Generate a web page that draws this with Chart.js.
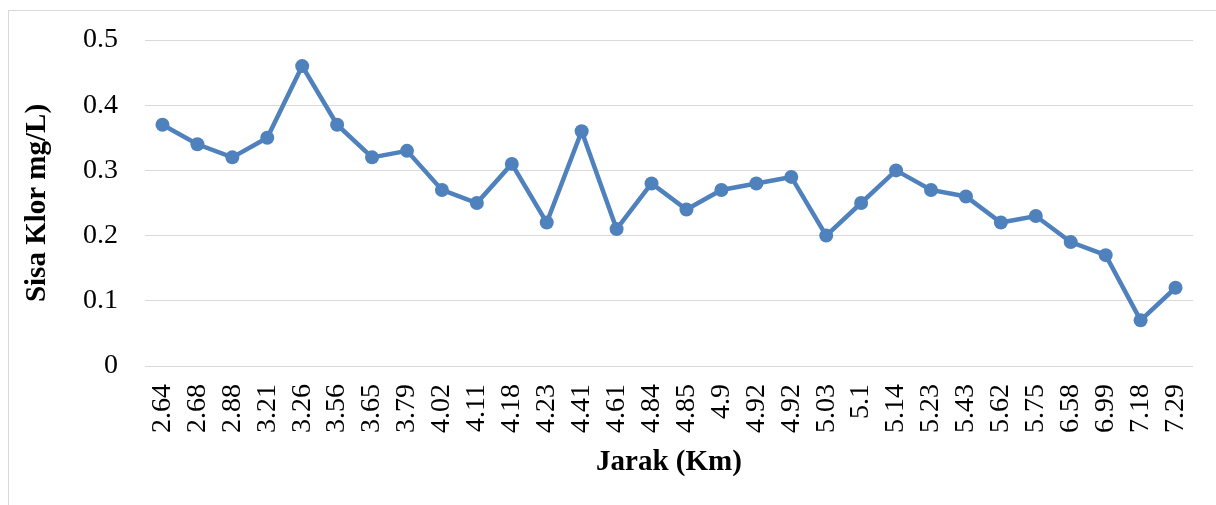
<!DOCTYPE html>
<html>
<head>
<meta charset="utf-8">
<script src="https://cdn.jsdelivr.net/npm/chart.js@4.4.0/dist/chart.umd.min.js"></script>
<style>
  html, body { margin: 0; padding: 0; background: #fff; overflow: hidden; }
  #frame { position: absolute; left: 8px; top: 10px; width: 1400px; height: 700px;
           border-left: 1px solid #d9d9d9; border-top: 1px solid #d9d9d9; }
  #wrap { position: absolute; left: 0; top: 0; width: 1216px; height: 505px; }
</style>
</head>
<body>
<div id="frame"></div>
<div id="wrap"><canvas id="c" width="1216" height="505"></canvas></div>
<script>
const categories = ["2.64","2.68","2.88","3.21","3.26","3.56","3.65","3.79","4.02","4.11","4.18","4.23","4.41","4.61","4.84","4.85","4.9","4.92","4.92","5.03","5.1","5.14","5.23","5.43","5.62","5.75","6.58","6.99","7.18","7.29"];
const sisaKlor = [0.37,0.34,0.32,0.35,0.46,0.37,0.32,0.33,0.27,0.25,0.31,0.22,0.36,0.21,0.28,0.24,0.27,0.28,0.29,0.20,0.25,0.30,0.27,0.26,0.22,0.23,0.19,0.17,0.07,0.12];
const yTickLabels = ["0","0.1","0.2","0.3","0.4","0.5"];
const xTitle = "Jarak (Km)";
const yTitle = "Sisa Klor mg/L)";

const serif = "'Liberation Serif', 'Times New Roman', serif";
const blue = "#4f81bd";

new Chart(document.getElementById('c'), {
  type: 'line',
  data: {
    labels: categories,
    datasets: [{
      data: sisaKlor,
      borderColor: blue,
      backgroundColor: blue,
      borderWidth: 4.5,
      pointRadius: 7,
      pointHoverRadius: 7,
      pointBorderWidth: 0,
      pointBackgroundColor: blue,
      tension: 0,
      fill: false
    }]
  },
  options: {
    responsive: false,
    animation: false,
    devicePixelRatio: 1,
    layout: { padding: { left: 0, top: 40, right: 23, bottom: 0 } },
    plugins: { legend: { display: false }, tooltip: { enabled: false } },
    scales: {
      x: {
        type: 'category',
        offset: true,
        grid: { display: false, drawTicks: false },
        border: { display: false },
        ticks: {
          autoSkip: false,
          maxRotation: 90,
          minRotation: 90,
          padding: 18,
          color: '#000',
          font: { family: serif, size: 28 }
        },
        title: {
          display: true,
          text: xTitle,
          color: '#000',
          font: { family: serif, size: 29, weight: 'bold' },
          padding: { top: 0, bottom: 25 }
        },
        afterFit: (s) => { s.height = 139; s.paddingLeft = 0; s.paddingRight = 0; }
      },
      y: {
        min: 0,
        max: 0.5,
        grid: { color: '#d9d9d9', lineWidth: 1, drawTicks: false },
        border: { display: false },
        ticks: {
          stepSize: 0.1,
          padding: 27,
          color: '#000',
          font: { family: serif, size: 28 },
          callback: (v, i) => yTickLabels[i]
        },
        title: {
          display: true,
          text: yTitle,
          color: '#000',
          font: { family: serif, size: 29, weight: 'bold' },
          padding: { top: 20, bottom: 0 }
        },
        afterFit: (s) => { s.width = 145; s.paddingTop = 0; s.paddingBottom = 0; }
      }
    }
  }
});
</script>
</body>
</html>
